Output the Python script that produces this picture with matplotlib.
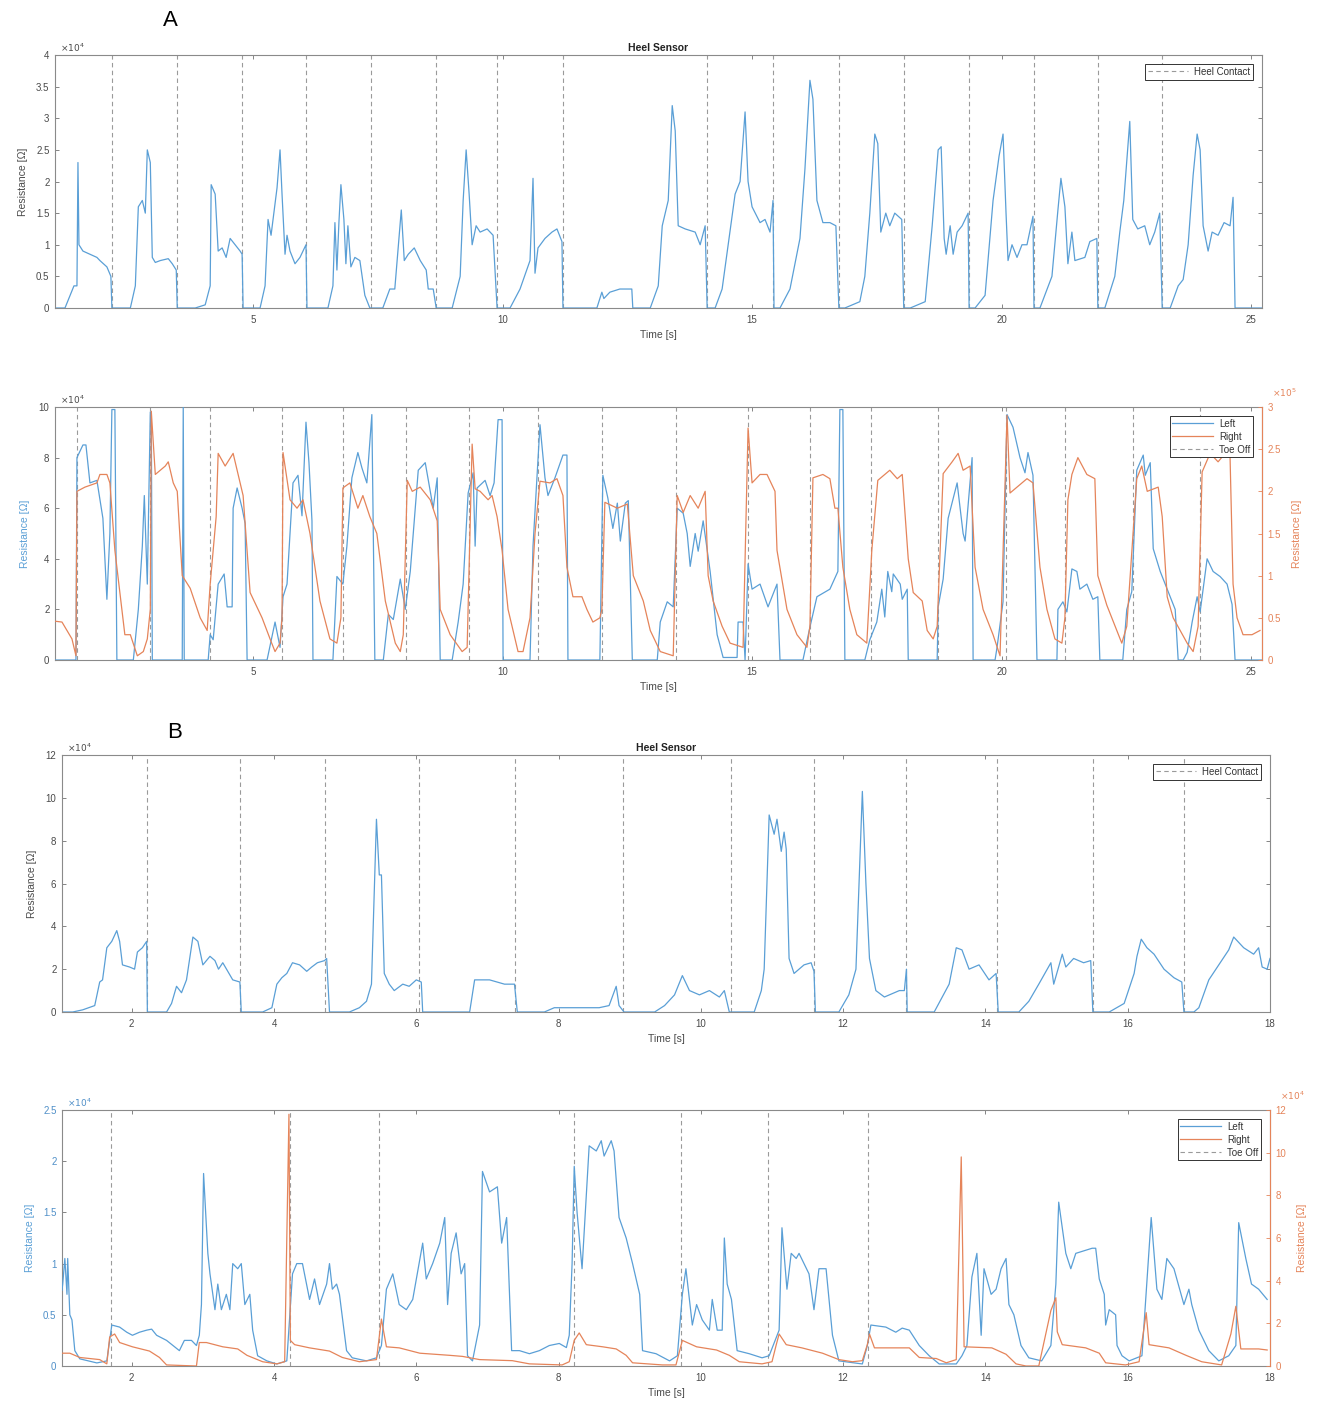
"""
Heel sensor / toe-off resistance traces, two trials (A and B)
"""

import matplotlib
matplotlib.use("Agg")
import matplotlib.pyplot as plt
from matplotlib.ticker import FuncFormatter
from matplotlib.lines import Line2D

plt.rcParams["font.family"] = ["Liberation Sans", "DejaVu Sans"]
plt.rcParams["mathtext.fontset"] = "dejavusans"

# ---------------- data: trial A ----------------
# heel sensor, resistance in units of 1e4 ohm
heel_a_t = [
    1.03, 1.23, 1.41, 1.47, 1.49, 1.51, 1.59, 1.73, 1.87, 1.93, 2.07, 2.15, 2.17,
    2.54, 2.64, 2.70, 2.78, 2.84, 2.88, 2.94, 2.98, 3.04, 3.14, 3.30, 3.38, 3.46, 3.48,
    3.84, 4.04, 4.14, 4.16, 4.24, 4.30, 4.38, 4.46, 4.54, 4.64, 4.74, 4.78, 4.80,
    5.14, 5.24, 5.30, 5.36, 5.40, 5.48, 5.54, 5.58, 5.64, 5.68, 5.74, 5.84, 5.94, 6.06, 6.08,
    6.50, 6.60, 6.64, 6.68, 6.72, 6.76, 6.82, 6.86, 6.90, 6.96, 7.04, 7.14, 7.24, 7.34,
    7.60, 7.74, 7.84, 7.97, 8.03, 8.11, 8.23, 8.35, 8.47, 8.51, 8.61, 8.67,
    8.99, 9.15, 9.21, 9.27, 9.33, 9.39, 9.47, 9.55, 9.69, 9.81, 9.89,
    10.15, 10.35, 10.55, 10.61, 10.65, 10.71, 10.85, 10.99, 11.09, 11.19, 11.21,
    11.89, 11.99, 12.03, 12.15, 12.35, 12.59, 12.61,
    12.96, 13.12, 13.20, 13.32, 13.40, 13.46, 13.52, 13.66, 13.86, 13.96, 14.06, 14.10,
    14.26, 14.40, 14.66, 14.76, 14.86, 14.92, 15.00, 15.16, 15.26, 15.36, 15.42, 15.44,
    15.56, 15.76, 15.96, 16.06, 16.16, 16.22, 16.30, 16.42, 16.56, 16.68, 16.74,
    16.86, 17.16, 17.26, 17.36, 17.46, 17.52, 17.58, 17.68, 17.76, 17.86, 18.00, 18.04,
    18.17, 18.47, 18.61, 18.73, 18.79, 18.85, 18.89, 18.97, 19.03, 19.11, 19.21, 19.33, 19.35,
    19.47, 19.67, 19.83, 19.95, 20.03, 20.09, 20.13, 20.21, 20.31, 20.41, 20.51, 20.63, 20.65,
    20.77, 21.01, 21.13, 21.19, 21.27, 21.33, 21.41, 21.47, 21.67, 21.77, 21.91, 21.93,
    22.07, 22.27, 22.37, 22.45, 22.57, 22.63, 22.73, 22.87, 22.97, 23.07, 23.17, 23.22,
    23.38, 23.54, 23.64, 23.74, 23.84, 23.92, 23.98, 24.04, 24.14, 24.22, 24.34, 24.46,
    24.58, 24.64, 24.68, 25.22,
]
heel_a_v = [
    0, 0, 0.35, 0.35, 2.3, 1.0, 0.9, 0.85, 0.8, 0.75, 0.65, 0.5, 0,
    0, 0.35, 1.6, 1.7, 1.5, 2.5, 2.3, 0.8, 0.72, 0.75, 0.78, 0.7, 0.6, 0,
    0, 0.05, 0.35, 1.95, 1.8, 0.9, 0.95, 0.8, 1.1, 1.0, 0.9, 0.85, 0,
    0, 0.35, 1.4, 1.15, 1.4, 1.9, 2.5, 1.8, 0.85, 1.15, 0.9, 0.7, 0.8, 1.0, 0,
    0, 0.35, 1.35, 0.6, 1.35, 1.95, 1.4, 0.7, 1.3, 0.65, 0.8, 0.75, 0.2, 0,
    0, 0.3, 0.3, 1.55, 0.75, 0.85, 0.95, 0.75, 0.6, 0.3, 0.3, 0,
    0, 0.5, 1.7, 2.5, 1.8, 1.0, 1.3, 1.2, 1.25, 1.15, 0,
    0, 0.3, 0.75, 2.05, 0.55, 0.95, 1.1, 1.2, 1.25, 1.05, 0,
    0, 0.25, 0.15, 0.25, 0.3, 0.3, 0,
    0, 0.35, 1.3, 1.7, 3.2, 2.8, 1.3, 1.25, 1.2, 1.0, 1.3, 0,
    0, 0.3, 1.8, 2.0, 3.1, 2.0, 1.6, 1.35, 1.4, 1.2, 1.7, 0,
    0, 0.3, 1.1, 2.2, 3.6, 3.3, 1.7, 1.35, 1.35, 1.3, 0,
    0, 0.1, 0.5, 1.5, 2.75, 2.6, 1.2, 1.5, 1.3, 1.5, 1.4, 0,
    0, 0.1, 1.3, 2.5, 2.55, 1.1, 0.85, 1.3, 0.85, 1.2, 1.3, 1.5, 0,
    0, 0.2, 1.7, 2.4, 2.75, 1.5, 0.75, 1.0, 0.8, 1.0, 1.0, 1.45, 0,
    0, 0.5, 1.55, 2.05, 1.6, 0.7, 1.2, 0.75, 0.8, 1.05, 1.1, 0,
    0, 0.5, 1.2, 1.7, 2.95, 1.4, 1.25, 1.3, 1.0, 1.2, 1.5, 0,
    0, 0.35, 0.45, 1.0, 2.1, 2.75, 2.5, 1.3, 0.9, 1.2, 1.15, 1.35,
    1.3, 1.75, 0, 0,
]
heel_contact_a = [2.18, 3.48, 4.78, 6.06, 7.36, 8.67, 9.89, 11.21, 14.10,
                  15.42, 16.74, 18.04, 19.35, 20.65, 21.93, 23.22]

# toe sensors, left foot (1e4 ohm) and right foot (1e5 ohm)
left_a_t = [
    1.03, 1.45, 1.47, 1.59, 1.65, 1.73, 1.87, 1.99, 2.07, 2.13, 2.17, 2.23, 2.27,
    2.60, 2.70, 2.78, 2.82, 2.88, 2.94, 2.96, 2.98,
    3.58, 3.60, 3.62,
    4.10, 4.14, 4.20, 4.30, 4.42, 4.48, 4.58, 4.60, 4.68, 4.78, 4.84, 4.88,
    5.28, 5.44, 5.54, 5.60, 5.68, 5.80, 5.90, 5.98, 6.06, 6.12, 6.18, 6.20,
    6.60, 6.68, 6.80, 6.88, 6.98, 7.10, 7.18, 7.28, 7.38, 7.44,
    7.61, 7.71, 7.81, 7.95, 8.05, 8.15, 8.31, 8.45, 8.61, 8.69, 8.75,
    8.99, 9.11, 9.21, 9.31, 9.41, 9.45, 9.49, 9.65, 9.75, 9.83, 9.91, 9.99, 10.01,
    10.55, 10.61, 10.75, 10.85, 10.91, 11.05, 11.21, 11.29, 11.31,
    11.95, 12.01, 12.11, 12.21, 12.30, 12.36, 12.46, 12.52, 12.60,
    13.10, 13.16, 13.30, 13.42, 13.50, 13.62, 13.70, 13.76, 13.86, 13.92, 14.02, 14.16,
    14.30, 14.42, 14.70, 14.72, 14.82, 14.86,
    14.92, 15.00, 15.16, 15.32, 15.50, 15.56,
    16.02, 16.16, 16.30, 16.56, 16.72, 16.76, 16.82, 16.86,
    17.26, 17.36, 17.50, 17.60, 17.66, 17.72, 17.80, 17.83, 17.97, 18.01, 18.11, 18.13,
    18.71, 18.73, 18.83, 18.93, 19.11, 19.23, 19.27, 19.41, 19.43,
    19.87, 19.91, 20.03, 20.11, 20.23, 20.37, 20.47, 20.53, 20.63, 20.71,
    21.11, 21.13, 21.23, 21.31, 21.41, 21.51, 21.57, 21.71, 21.83, 21.93, 21.97,
    22.43, 22.51, 22.61, 22.71, 22.84, 22.88, 22.98, 23.04, 23.18, 23.32, 23.48, 23.54,
    23.64, 23.72, 23.82, 23.92, 23.98, 24.12, 24.24, 24.38, 24.52, 24.62, 24.68, 25.22,
]
left_a_v = [
    0, 0, 8.0, 8.5, 8.5, 7.0, 7.1, 5.6, 2.4, 5.0, 9.9, 9.9, 0,
    0, 2.0, 4.5, 6.5, 3.0, 9.8, 9.8, 0,
    0, 10, 0,
    0, 1.0, 0.8, 3.0, 3.4, 2.1, 2.1, 6.0, 6.8, 6.0, 5.4, 0,
    0, 1.5, 0.5, 2.5, 3.0, 7.0, 7.3, 5.7, 9.4, 7.8, 5.5, 0,
    0, 3.3, 3.0, 4.5, 7.2, 8.2, 7.6, 7.0, 9.7, 0,
    0, 1.8, 1.6, 3.2, 2.0, 3.5, 7.5, 7.8, 6.0, 7.2, 0,
    0, 1.5, 3.0, 6.6, 7.4, 4.5, 6.8, 7.1, 6.5, 7.0, 9.5, 9.5, 0,
    0, 4.5, 9.3, 7.2, 6.5, 7.2, 8.1, 8.1, 0,
    0, 7.3, 6.4, 5.2, 6.2, 4.7, 6.2, 6.3, 0,
    0, 1.5, 2.3, 2.1, 6.0, 5.8, 5.0, 3.7, 5.0, 4.3, 5.5, 3.5,
    1.0, 0.1, 0.1, 1.5, 1.5, 0,
    3.8, 2.8, 3.0, 2.1, 3.0, 0,
    0, 1.3, 2.5, 2.8, 3.5, 9.9, 9.9, 0,
    0, 0.8, 1.5, 2.8, 1.7, 3.5, 2.7, 3.4, 3.0, 2.4, 2.8, 0,
    0, 2.1, 3.2, 5.6, 7.0, 5.0, 4.7, 8.0, 0,
    0, 0.5, 2.3, 9.7, 9.2, 8.0, 7.4, 8.2, 7.3, 0,
    0, 2.0, 2.3, 1.9, 3.6, 3.5, 2.8, 3.0, 2.4, 2.5, 0,
    0, 2.0, 2.7, 7.5, 8.1, 7.3, 7.8, 4.4, 3.5, 2.8, 2.0, 0,
    0, 0.3, 1.5, 2.5, 1.9, 4.0, 3.5, 3.3, 3.0, 2.2, 0, 0,
]
right_a_t = [
    1.03, 1.17, 1.37, 1.45, 1.47, 1.63, 1.87, 1.93, 2.07, 2.13,
    2.23, 2.33, 2.43, 2.54, 2.68, 2.80, 2.88, 2.94, 2.96, 3.04,
    3.24, 3.30, 3.40, 3.48, 3.58, 3.74, 3.94, 4.08, 4.14, 4.26,
    4.30, 4.44, 4.60, 4.70, 4.80, 4.94, 5.18, 5.34, 5.44, 5.54,
    5.58, 5.60, 5.74, 5.88, 6.00, 6.14, 6.34, 6.54, 6.68, 6.76,
    6.80, 6.94, 7.10, 7.20, 7.34, 7.48, 7.65, 7.85, 7.95, 8.01,
    8.09, 8.19, 8.35, 8.55, 8.69, 8.75, 8.95, 9.19, 9.29, 9.39,
    9.45, 9.55, 9.71, 9.79, 9.89, 9.99, 10.11, 10.21, 10.31, 10.41,
    10.55, 10.65, 10.75, 10.95, 11.09, 11.21, 11.29, 11.41, 11.59, 11.69,
    11.81, 11.95, 11.99, 12.05, 12.30, 12.50, 12.62, 12.82, 12.96, 13.16,
    13.42, 13.50, 13.62, 13.76, 13.92, 14.06, 14.12, 14.22, 14.40, 14.56,
    14.82, 14.92, 15.00, 15.16, 15.30, 15.46, 15.50, 15.70, 15.90, 16.10,
    16.16, 16.22, 16.42, 16.56, 16.66, 16.72, 16.82, 16.96, 17.10, 17.30,
    17.40, 17.52, 17.66, 17.76, 17.91, 18.01, 18.13, 18.23, 18.41, 18.51,
    18.63, 18.71, 18.83, 19.01, 19.13, 19.23, 19.37, 19.47, 19.63, 19.83,
    19.97, 20.11, 20.17, 20.31, 20.51, 20.63, 20.77, 20.91, 21.07, 21.21,
    21.27, 21.33, 21.41, 21.53, 21.71, 21.87, 21.93, 22.11, 22.31, 22.41,
    22.51, 22.71, 22.81, 22.92, 23.14, 23.22, 23.32, 23.44, 23.72, 23.84,
    23.94, 24.02, 24.18, 24.34, 24.48, 24.58, 24.64, 24.72, 24.84, 25.02,
    25.18,
]
right_a_v = [
    0.46, 0.45, 0.25, 0.05, 2.0, 2.05, 2.1, 2.2, 2.2, 2.1,
    1.3, 0.8, 0.3, 0.3, 0.05, 0.1, 0.25, 0.6, 2.95, 2.2,
    2.3, 2.35, 2.1, 2.0, 1.0, 0.85, 0.5, 0.35, 0.9, 1.7,
    2.45, 2.3, 2.45, 2.2, 1.95, 0.8, 0.5, 0.25, 0.1, 0.2,
    0.5, 2.46, 1.9, 1.8, 1.9, 1.5, 0.7, 0.25, 0.2, 0.5,
    2.04, 2.1, 1.8, 1.95, 1.7, 1.5, 0.7, 0.2, 0.1, 0.3,
    2.13, 2.0, 2.05, 1.9, 1.65, 0.6, 0.3, 0.1, 0.15, 2.56,
    2.03, 2.0, 1.9, 1.95, 1.7, 1.3, 0.6, 0.35, 0.1, 0.1,
    0.5, 1.5, 2.12, 2.1, 2.15, 1.95, 1.1, 0.75, 0.75, 0.6,
    0.45, 0.5, 0.6, 1.87, 1.8, 1.85, 1.0, 0.7, 0.35, 0.1,
    0.05, 1.95, 1.75, 1.95, 1.8, 2.0, 1.0, 0.7, 0.4, 0.2,
    0.15, 2.75, 2.1, 2.2, 2.2, 2.0, 1.3, 0.6, 0.3, 0.15,
    0.4, 2.16, 2.2, 2.15, 1.8, 1.8, 1.1, 0.6, 0.3, 0.2,
    1.3, 2.13, 2.2, 2.25, 2.15, 2.2, 1.2, 0.8, 0.7, 0.35,
    0.25, 0.4, 2.21, 2.35, 2.45, 2.25, 2.3, 1.1, 0.6, 0.3,
    0.05, 2.9, 1.98, 2.05, 2.15, 2.1, 1.1, 0.6, 0.25, 0.2,
    0.5, 1.9, 2.2, 2.4, 2.2, 2.15, 1.0, 0.65, 0.35, 0.2,
    0.4, 2.15, 2.3, 2.0, 2.05, 1.7, 0.75, 0.5, 0.2, 0.1,
    0.4, 2.23, 2.45, 2.35, 2.45, 2.4, 0.9, 0.5, 0.3, 0.3,
    0.35,
]
toe_off_a = [1.47, 2.94, 4.14, 5.58, 6.80, 8.06, 9.33, 10.71, 11.99, 13.48,
             14.92, 16.16, 17.38, 18.73, 20.09, 21.27, 22.63, 23.98]

# ---------------- data: trial B ----------------
heel_b_t = [
    1.00, 1.17, 1.31, 1.48, 1.55, 1.59, 1.65, 1.72, 1.79, 1.83, 1.87, 1.97, 2.04,
    2.08, 2.15, 2.21, 2.22,
    2.49, 2.56, 2.63, 2.70, 2.77, 2.86, 2.93, 3.00, 3.10, 3.17, 3.22, 3.28, 3.35,
    3.42, 3.52, 3.54,
    3.84, 3.97, 4.04, 4.11, 4.18, 4.26, 4.36, 4.46, 4.53, 4.61, 4.71, 4.74, 4.78,
    5.06, 5.20, 5.30, 5.37, 5.44, 5.48, 5.51, 5.55, 5.62, 5.69, 5.81, 5.90, 6.00,
    6.07, 6.09,
    6.75, 6.82, 7.03, 7.24, 7.38, 7.42,
    7.80, 7.94, 8.57, 8.71, 8.81, 8.85, 8.92,
    9.35, 9.49, 9.63, 9.74, 9.84, 9.98, 10.12, 10.26, 10.33, 10.40,
    10.75, 10.85, 10.89, 10.96, 11.03, 11.07, 11.13, 11.17, 11.20, 11.24, 11.31,
    11.45, 11.55, 11.59, 11.61,
    11.94, 12.08, 12.18, 12.27, 12.32, 12.37, 12.46, 12.58, 12.79, 12.86, 12.89, 12.90,
    13.28, 13.49, 13.59, 13.67, 13.77, 13.91, 14.05, 14.15, 14.18,
    14.47, 14.61, 14.75, 14.87, 14.92, 14.96, 15.08, 15.13, 15.24, 15.38, 15.48, 15.51,
    15.74, 15.95, 16.09, 16.13, 16.19, 16.27, 16.37, 16.51, 16.65, 16.76, 16.79,
    16.93, 17.00, 17.14, 17.28, 17.42, 17.49, 17.63, 17.77, 17.84, 17.89, 17.96, 18.00,
]
heel_b_v = [
    0, 0, 0.1, 0.3, 1.4, 1.5, 3.0, 3.3, 3.8, 3.3, 2.2, 2.1, 2.0,
    2.8, 3.0, 3.3, 0,
    0, 0.4, 1.2, 0.9, 1.5, 3.5, 3.3, 2.2, 2.6, 2.4, 2.0, 2.3, 1.9,
    1.5, 1.4, 0,
    0, 0.2, 1.3, 1.6, 1.8, 2.3, 2.2, 1.9, 2.1, 2.3, 2.4, 2.5, 0,
    0, 0.2, 0.5, 1.3, 9.0, 6.4, 6.4, 1.8, 1.3, 1.0, 1.3, 1.2, 1.5,
    1.4, 0,
    0, 1.5, 1.5, 1.3, 1.3, 0,
    0, 0.2, 0.2, 0.3, 1.2, 0.3, 0,
    0, 0.3, 0.8, 1.7, 1.0, 0.8, 1.0, 0.7, 1.0, 0,
    0, 1.0, 2.0, 9.2, 8.3, 9.0, 7.5, 8.4, 7.6, 2.5, 1.8,
    2.2, 2.3, 1.9, 0,
    0, 0.8, 2.0, 10.3, 6.0, 2.5, 1.0, 0.7, 1.0, 1.0, 2.0, 0,
    0, 1.3, 3.0, 2.9, 2.0, 2.2, 1.5, 1.8, 0,
    0, 0.5, 1.3, 2.0, 2.3, 1.3, 2.7, 2.1, 2.5, 2.3, 2.4, 0,
    0, 0.4, 1.8, 2.6, 3.4, 3.0, 2.7, 2.0, 1.6, 1.4, 0,
    0, 0.2, 1.5, 2.2, 2.9, 3.5, 3.0, 2.7, 3.0, 2.1, 2.0, 2.5,
]
heel_contact_b = [2.22, 3.52, 4.72, 6.04, 7.39, 8.91, 10.42, 11.59, 12.88,
                  14.16, 15.51, 16.79]

left_b_t = [
    1.02, 1.03, 1.06, 1.09, 1.10, 1.13, 1.16, 1.20, 1.27, 1.51,
    1.65, 1.69, 1.72, 1.83, 1.93, 2.01, 2.11, 2.21, 2.28, 2.35,
    2.49, 2.58, 2.67, 2.74, 2.84, 2.91, 2.95, 2.98, 3.01, 3.07,
    3.10, 3.17, 3.21, 3.26, 3.33, 3.38, 3.42, 3.49, 3.54, 3.59,
    3.66, 3.70, 3.77, 3.90, 4.04, 4.18, 4.26, 4.32, 4.40, 4.50,
    4.57, 4.64, 4.74, 4.78, 4.82, 4.88, 4.92, 5.02, 5.10, 5.30,
    5.44, 5.51, 5.58, 5.67, 5.76, 5.86, 5.95, 6.09, 6.14, 6.23,
    6.33, 6.40, 6.44, 6.49, 6.56, 6.63, 6.68, 6.72, 6.79, 6.89,
    6.93, 7.03, 7.14, 7.20, 7.27, 7.34, 7.45, 7.59, 7.73, 7.87,
    8.01, 8.11, 8.15, 8.19, 8.22, 8.26, 8.33, 8.43, 8.53, 8.60,
    8.64, 8.74, 8.78, 8.85, 8.95, 9.04, 9.14, 9.18, 9.37, 9.56,
    9.67, 9.74, 9.79, 9.88, 9.94, 10.02, 10.12, 10.16, 10.23, 10.30,
    10.33, 10.37, 10.43, 10.51, 10.68, 10.86, 10.96, 11.10, 11.14, 11.21,
    11.27, 11.34, 11.38, 11.52, 11.59, 11.66, 11.76, 11.85, 11.94, 12.27,
    12.34, 12.39, 12.60, 12.74, 12.83, 12.93, 13.07, 13.21, 13.35, 13.59,
    13.67, 13.74, 13.81, 13.88, 13.94, 13.98, 14.08, 14.15, 14.22, 14.29,
    14.33, 14.40, 14.50, 14.61, 14.79, 14.92, 14.99, 15.03, 15.13, 15.20,
    15.27, 15.50, 15.55, 15.60, 15.67, 15.69, 15.74, 15.83, 15.85, 15.92,
    16.02, 16.20, 16.33, 16.41, 16.48, 16.55, 16.65, 16.79, 16.86, 16.90,
    17.00, 17.14, 17.28, 17.42, 17.52, 17.56, 17.66, 17.74, 17.84, 17.96,
]
left_b_v = [
    0.74, 0.8, 1.05, 0.7, 1.05, 0.5, 0.45, 0.15, 0.07, 0.03,
    0.05, 0.25, 0.4, 0.38, 0.33, 0.3, 0.33, 0.35, 0.36, 0.3,
    0.25, 0.2, 0.15, 0.25, 0.25, 0.2, 0.3, 0.6, 1.88, 1.1,
    0.9, 0.55, 0.8, 0.55, 0.7, 0.55, 1.0, 0.95, 1.0, 0.6,
    0.7, 0.35, 0.1, 0.05, 0.02, 0.05, 0.9, 1.0, 1.0, 0.65,
    0.85, 0.6, 0.8, 1.0, 0.75, 0.8, 0.7, 0.15, 0.08, 0.05,
    0.08, 0.2, 0.75, 0.9, 0.6, 0.55, 0.65, 1.2, 0.85, 1.0,
    1.2, 1.45, 0.6, 1.1, 1.3, 0.9, 1.0, 0.1, 0.05, 0.4,
    1.9, 1.7, 1.75, 1.2, 1.45, 0.15, 0.15, 0.12, 0.15, 0.2,
    0.22, 0.18, 0.3, 1.0, 1.95, 1.5, 0.95, 2.15, 2.1, 2.2,
    2.05, 2.2, 2.1, 1.45, 1.25, 1.0, 0.7, 0.15, 0.12, 0.05,
    0.1, 0.7, 0.95, 0.4, 0.6, 0.45, 0.35, 0.65, 0.35, 0.35,
    1.25, 0.8, 0.65, 0.15, 0.12, 0.08, 0.1, 0.35, 1.35, 0.75,
    1.1, 1.05, 1.1, 0.9, 0.55, 0.95, 0.95, 0.3, 0.05, 0.02,
    0.2, 0.4, 0.38, 0.33, 0.37, 0.35, 0.2, 0.1, 0.02, 0.02,
    0.1, 0.2, 0.87, 1.1, 0.3, 0.95, 0.7, 0.75, 0.95, 1.05,
    0.6, 0.5, 0.2, 0.08, 0.05, 0.2, 0.8, 1.6, 1.1, 0.95,
    1.1, 1.15, 1.15, 0.85, 0.7, 0.4, 0.55, 0.5, 0.2, 0.1,
    0.05, 0.1, 1.45, 0.75, 0.65, 1.05, 0.95, 0.6, 0.75, 0.6,
    0.35, 0.15, 0.05, 0.1, 0.2, 1.4, 1.05, 0.8, 0.75, 0.65,
]
right_b_t = [
    1.02, 1.13, 1.27, 1.55, 1.65, 1.69, 1.76, 1.83, 2.01, 2.25,
    2.39, 2.49, 2.91, 2.95, 3.05, 3.28, 3.49, 3.62, 3.84, 4.04,
    4.15, 4.21, 4.23, 4.29, 4.50, 4.78, 4.96, 5.20, 5.44, 5.51,
    5.58, 5.76, 6.05, 6.47, 6.65, 6.89, 7.35, 7.59, 8.05, 8.15,
    8.22, 8.29, 8.39, 8.62, 8.81, 8.95, 9.04, 9.46, 9.65, 9.74,
    9.94, 10.22, 10.40, 10.54, 10.86, 11.00, 11.06, 11.10, 11.20, 11.42,
    11.71, 11.94, 12.13, 12.27, 12.34, 12.37, 12.44, 12.93, 13.07, 13.31,
    13.45, 13.59, 13.66, 13.70, 14.09, 14.29, 14.43, 14.57, 14.75, 14.92,
    14.99, 15.01, 15.08, 15.41, 15.60, 15.69, 15.97, 16.16, 16.26, 16.30,
    16.58, 16.82, 17.04, 17.32, 17.45, 17.52, 17.59, 17.84, 17.96,
]
right_b_v = [
    0.6, 0.6, 0.4, 0.3, 0.1, 1.36, 1.5, 1.1, 0.9, 0.7,
    0.4, 0.05, 0.0, 1.1, 1.1, 0.9, 0.8, 0.5, 0.2, 0.1,
    0.2, 11.8, 1.2, 1.0, 0.85, 0.7, 0.4, 0.2, 0.3, 2.2,
    0.9, 0.85, 0.6, 0.5, 0.45, 0.3, 0.25, 0.1, 0.05, 0.2,
    1.2, 1.55, 1.0, 0.9, 0.8, 0.5, 0.15, 0.05, 0.05, 1.2,
    0.9, 0.75, 0.5, 0.2, 0.1, 0.2, 1.0, 1.5, 1.0, 0.85,
    0.6, 0.3, 0.2, 0.25, 1.0, 1.5, 0.85, 0.85, 0.4, 0.35,
    0.15, 0.3, 9.8, 0.9, 0.85, 0.55, 0.1, 0.0, 0.0, 2.6,
    3.2, 1.6, 1.0, 0.85, 0.6, 0.15, 0.05, 0.2, 2.5, 1.0,
    0.85, 0.5, 0.2, 0.05, 1.5, 2.8, 0.8, 0.8, 0.75,
]
toe_off_b = [1.71, 4.22, 5.48, 8.21, 9.72, 10.95, 12.35]

BLUE = "#5a9fd6"
ORANGE = "#e5845a"
DASH = "#9a9a9a"
TEXT = "#4a4a4a"
FIG_W, FIG_H = 1327, 1411


def _axes_rect(left, top, right, bottom):
    """convert a pixel box into a figure-fraction rect"""
    return [left / FIG_W, 1 - bottom / FIG_H, (right - left) / FIG_W,
            (bottom - top) / FIG_H]


def _style(ax, xticks, yticks, xlim, ylim, label_color=TEXT, right=True):
    fmt = FuncFormatter(lambda v, _: f"{v:g}")
    ax.set_xlim(*xlim)
    ax.set_ylim(*ylim)
    ax.set_xticks(xticks)
    ax.set_yticks(yticks)
    ax.xaxis.set_major_formatter(fmt)
    ax.yaxis.set_major_formatter(fmt)
    ax.tick_params(direction="in", length=3, width=0.6, labelsize=7,
                   colors="#707070", top=True, right=right)
    ax.tick_params(axis="x", labelcolor=TEXT, pad=5)
    ax.tick_params(axis="y", labelcolor=label_color, pad=4)
    for spine in ax.spines.values():
        spine.set_color("#8a8a8a")
        spine.set_linewidth(0.8)
    ax.set_xlabel("Time [s]", fontsize=7.5, color=TEXT, labelpad=4)


def _exponent(ax, x, y, text, color=TEXT):
    ax.text(x, y, text, transform=ax.transAxes, ha="left", va="bottom",
            fontsize=6.5, color=color)


def _vlines(ax, times, label):
    for i, t in enumerate(times):
        ax.axvline(t, color=DASH, lw=0.8, ls=(0, (4, 3)),
                   label=label if i == 0 else None, zorder=1)


def _legend(ax, handles, labels):
    leg = ax.legend(handles, labels, loc="upper right", fontsize=7,
                    frameon=True, fancybox=False, framealpha=1,
                    edgecolor="#333333", handlelength=4.2, borderpad=0.3,
                    labelspacing=0.3, borderaxespad=0.9, handletextpad=0.6)
    leg.get_frame().set_linewidth(0.7)
    for txt in leg.get_texts():
        txt.set_color("#333333")


def heel_panel(fig, rect, t, v, contacts, xticks, xlim, yticks, ylim):
    ax = fig.add_axes(rect)
    _vlines(ax, contacts, "Heel Contact")
    ax.plot(t, v, color=BLUE, lw=0.9, zorder=2)
    _style(ax, xticks, yticks, xlim, ylim)
    ax.set_ylabel("Resistance [\u03a9]", fontsize=7.5, color=TEXT, labelpad=6)
    ax.set_title("Heel Sensor", fontsize=7.5, fontweight="bold", color="#222222",
                 pad=3)
    _exponent(ax, 0.004, 1.004, r"$\times10^{4}$")
    dash = Line2D([], [], color=DASH, lw=0.8, ls=(0, (4, 3)))
    _legend(ax, [dash], ["Heel Contact"])
    return ax


def toe_panel(fig, rect, lt, lv, rt, rv, toe_offs, xticks, xlim,
              yticks_l, ylim_l, yticks_r, ylim_r, exp_r, left_tick_color):
    ax = fig.add_axes(rect)
    _vlines(ax, toe_offs, "Toe Off")
    ax.plot(lt, lv, color=BLUE, lw=0.9, zorder=3)
    _style(ax, xticks, yticks_l, xlim, ylim_l, label_color=left_tick_color,
           right=False)
    ax.set_ylabel("Resistance [\u03a9]", fontsize=7.5, color=BLUE, labelpad=6)
    _exponent(ax, 0.004, 1.004, r"$\times10^{4}$", color=left_tick_color)

    ax_r = ax.twinx()
    ax_r.plot(rt, rv, color=ORANGE, lw=0.9, zorder=2)
    ax_r.set_ylim(*ylim_r)
    ax_r.set_yticks(yticks_r)
    ax_r.yaxis.set_major_formatter(FuncFormatter(lambda v, _: f"{v:g}"))
    ax_r.tick_params(direction="in", length=3, width=0.6, labelsize=7,
                     colors=ORANGE, pad=4)
    ax_r.spines["right"].set_color(ORANGE)
    for side in ("top", "left", "bottom"):
        ax_r.spines[side].set_visible(False)
    ax_r.set_ylabel("Resistance [\u03a9]", fontsize=7.5, color=ORANGE,
                    labelpad=8)
    # exponent sits above and right of the top tick label
    _exponent(ax_r, 1.008, 1.03, exp_r, color=ORANGE)

    handles = [Line2D([], [], color=BLUE, lw=0.9),
               Line2D([], [], color=ORANGE, lw=0.9),
               Line2D([], [], color=DASH, lw=0.8, ls=(0, (4, 3)))]
    _legend(ax_r, handles, ["Left", "Right", "Toe Off"])
    return ax, ax_r


def main():
    fig = plt.figure(figsize=(FIG_W / 100, FIG_H / 100), dpi=100)

    xt_a = [5, 10, 15, 20, 25]
    xl_a = (1.03, 25.22)
    xt_b = [2, 4, 6, 8, 10, 12, 14, 16, 18]
    xl_b = (1.02, 18.0)

    heel_panel(fig, _axes_rect(55, 55, 1262, 308), heel_a_t, heel_a_v,
               heel_contact_a, xt_a, xl_a,
               [0, 0.5, 1, 1.5, 2, 2.5, 3, 3.5, 4], (0, 4))

    toe_panel(fig, _axes_rect(55, 407, 1262, 660), left_a_t, left_a_v,
              right_a_t, right_a_v, toe_off_a, xt_a, xl_a,
              [0, 2, 4, 6, 8, 10], (0, 10),
              [0, 0.5, 1, 1.5, 2, 2.5, 3], (0, 3), r"$\times10^{5}$", TEXT)

    heel_panel(fig, _axes_rect(62, 755, 1270, 1012), heel_b_t, heel_b_v,
               heel_contact_b, xt_b, xl_b,
               [0, 2, 4, 6, 8, 10, 12], (0, 12))

    toe_panel(fig, _axes_rect(62, 1110, 1270, 1366), left_b_t, left_b_v,
              right_b_t, right_b_v, toe_off_b, xt_b, xl_b,
              [0, 0.5, 1, 1.5, 2, 2.5], (0, 2.5),
              [0, 2, 4, 6, 8, 10, 12], (0, 12), r"$\times10^{4}$", "#4f8fc8")

    fig.text(170 / FIG_W, 1 - 20 / FIG_H, "A", fontsize=16, ha="center",
             va="center")
    fig.text(175 / FIG_W, 1 - 733 / FIG_H, "B", fontsize=16, ha="center",
             va="center")

    fig.savefig("out.png", dpi=100)
    plt.close(fig)


if __name__ == "__main__":
    main()
